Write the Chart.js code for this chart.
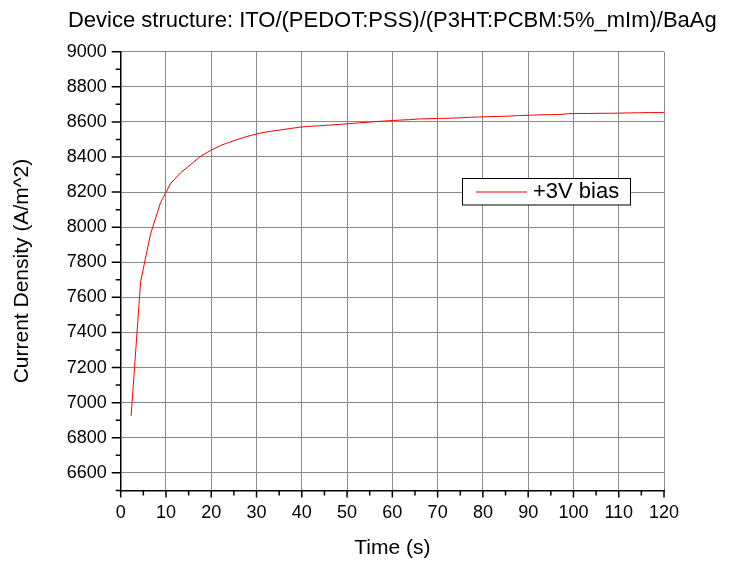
<!DOCTYPE html>
<html><head><meta charset="utf-8">
<script src="https://cdn.jsdelivr.net/npm/chart.js@4/dist/chart.umd.min.js"></script>
<style>html,body{margin:0;padding:0;background:#fff}</style>
</head><body>
<canvas id="c" width="730" height="565"></canvas>
<script>
const titleText = 'Device structure: ITO/(PEDOT:PSS)/(P3HT:PCBM:5%_mIm)/BaAg';
const xTitle = 'Time (s)';
const yTitle = 'Current Density (A/m^2)';
const seriesLabel = '+3V bias';
const times = [2.3,4.4,6.6,8.8,11.0,13.2,15.4,17.6,19.8,22.0,24.2,26.4,28.6,30.8,33.0,35.2,37.4,39.6,41.8,44.0,46.2,48.4,50.6,52.8,55.0,57.2,59.4,61.6,63.8,66.0,68.2,70.4,72.6,74.8,77.0,79.2,81.4,83.6,85.8,88.0,90.2,92.4,94.6,96.8,99.0,101.2,103.4,105.6,107.8,110.0,112.2,114.4,116.6,118.8,120.0];
const currents = [6925,7690,7962,8140,8248,8310,8356,8403,8437,8465,8486,8505,8522,8536,8546,8554,8562,8570,8575,8578,8582,8586,8590,8595,8599,8603,8607,8610,8613,8617,8618,8620,8621,8623,8626,8628,8630,8631,8633,8636,8638,8640,8641,8642,8647,8648,8648,8649,8649,8650,8651,8652,8653,8653,8654];
const xTicks = [0,10,20,30,40,50,60,70,80,90,100,110,120];
const yTicks = [6600,6800,7000,7200,7400,7600,7800,8000,8200,8400,8600,8800,9000];
const xMinor = [5,15,25,35,45,55,65,75,85,95,105,115];
const yMinor = [6500,6700,6900,7100,7300,7500,7700,7900,8100,8300,8500,8700,8900];

const FONT = '"Liberation Sans", Arial, sans-serif';

const tickPlugin = {
  id: 'axisTicks',
  afterDraw(chart) {
    const ctx = chart.ctx, xs = chart.scales.x, ys = chart.scales.y;
    const a = chart.chartArea;
    ctx.save();
    ctx.strokeStyle = '#000'; ctx.lineWidth = 1.5;
    ctx.beginPath();
    xTicks.forEach(v => { const p = xs.getPixelForValue(v); ctx.moveTo(p, a.bottom); ctx.lineTo(p, a.bottom + 7); });
    xMinor.forEach(v => { const p = xs.getPixelForValue(v); ctx.moveTo(p, a.bottom); ctx.lineTo(p, a.bottom + 5); });
    yTicks.forEach(v => { const p = ys.getPixelForValue(v); ctx.moveTo(a.left, p); ctx.lineTo(a.left - 9, p); });
    yMinor.forEach(v => { const p = ys.getPixelForValue(v); ctx.moveTo(a.left, p); ctx.lineTo(a.left - 5, p); });
    ctx.stroke();
    // title centred over the plot area
    ctx.fillStyle = '#000';
    ctx.font = '22px ' + FONT;
    ctx.textAlign = 'center'; ctx.textBaseline = 'middle';
    ctx.fillText(titleText, (a.left + a.right) / 2, 21);
    ctx.restore();
  }
};

const legendPlugin = {
  id: 'boxLegend',
  afterDatasetsDraw(chart) {
    const ctx = chart.ctx;
    const ds = chart.data.datasets[0];
    ctx.save();
    ctx.fillStyle = '#fff';
    ctx.fillRect(462, 178.5, 169, 26.5);
    ctx.strokeStyle = '#000'; ctx.lineWidth = 1;
    ctx.strokeRect(462.5, 178.5, 168, 26.5);
    ctx.strokeStyle = ds.borderColor; ctx.lineWidth = 1;
    ctx.beginPath(); ctx.moveTo(476, 192); ctx.lineTo(527, 192); ctx.stroke();
    ctx.fillStyle = '#000';
    ctx.font = '22px ' + FONT;
    ctx.textBaseline = 'middle'; ctx.textAlign = 'left';
    ctx.fillText(ds.label, 533, 192);
    ctx.restore();
  }
};

new Chart(document.getElementById('c'), {
  type: 'line',
  data: {
    datasets: [{
      label: seriesLabel,
      data: times.map((t, i) => ({x: t, y: currents[i]})),
      borderColor: '#ff0000',
      borderWidth: 1,
      pointRadius: 0,
      tension: 0,
      fill: false
    }]
  },
  options: {
    responsive: false,
    devicePixelRatio: 1,
    animation: false,
    layout: { padding: { left: 0, right: 66, top: 51.7, bottom: 0 } },
    plugins: {
      legend: { display: false },
      tooltip: { enabled: false },
      title: { display: false }
    },
    scales: {
      x: {
        type: 'linear', min: 0, max: 120,
        afterBuildTicks: s => { s.ticks = xTicks.map(v => ({value: v})); },
        afterFit: s => { s.height = 74.6; },
        grid: { color: '#888', lineWidth: 1, drawTicks: false },
        border: { color: '#000', width: 1.5 },
        ticks: { color: '#000', padding: 12, maxRotation: 0, autoSkip: false, font: { family: FONT, size: 18 }, callback: v => String(v) },
        title: { display: true, text: xTitle, color: '#000', font: { family: FONT, size: 21 }, padding: { top: 0, bottom: 4 } }
      },
      y: {
        type: 'linear', min: 6500, max: 9000,
        afterBuildTicks: s => { s.ticks = yTicks.map(v => ({value: v})); },
        afterFit: s => { s.width = 120.7; },
        grid: { color: '#888', lineWidth: 1, drawTicks: false },
        border: { color: '#000', width: 1.5 },
        ticks: { color: '#000', padding: 14, autoSkip: false, font: { family: FONT, size: 18 }, callback: v => String(v) },
        title: { display: true, text: yTitle, color: '#000', font: { family: FONT, size: 21 }, padding: { top: 10, bottom: 0 } }
      }
    }
  },
  plugins: [tickPlugin, legendPlugin]
});
</script>
</body></html>
